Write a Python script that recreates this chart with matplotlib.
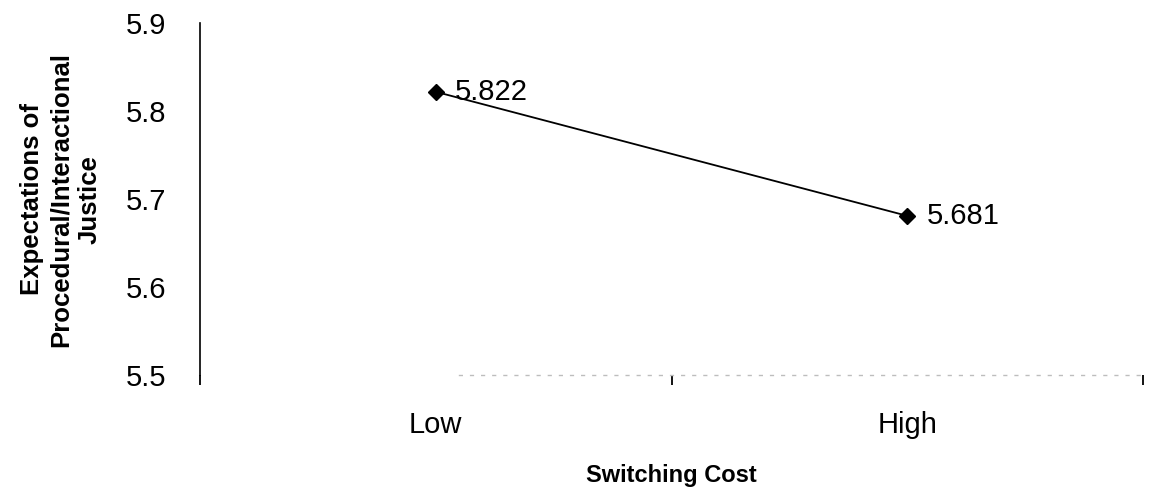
"""
   switching cost vs expected procedural/interactional justice (two-point line)
"""
from matplotlib import pyplot as plt
plt.switch_backend('Agg') #batch
import numpy as np

plt.rcParams['font.family'] = ['Liberation Sans', 'DejaVu Sans']

categories = ['Low', 'High']
justice = [5.822, 5.681]
point_labels = ['5.822', '5.681']
y_ticks = [5.5, 5.6, 5.7, 5.8, 5.9]

fig = plt.figure(figsize=(11.49, 4.93), dpi=100)
ax = fig.add_axes([0.174, 0.239, 0.821, 0.714])

x = np.arange(len(categories))
ax.plot(x, justice, color='black', lw=1.3, marker='D', ms=8,
        markerfacecolor='black', markeredgecolor='black', zorder=3)
for xi, yi, lab in zip(x, justice, point_labels):
    ax.annotate(lab, (xi, yi), xytext=(14, 0), textcoords='offset points',
                va='center', ha='left', fontsize=21)

ax.set_xlim(-0.5, len(categories) - 0.5)
ax.set_ylim(y_ticks[0], y_ticks[-1])
ax.set_yticks(y_ticks)
ax.set_yticklabels(['%.1f' % v for v in y_ticks])
ax.tick_params(axis='y', length=0, pad=24, labelsize=21)

# category boundaries as major ticks, names as minor ticks
ax.set_xticks(np.arange(len(categories) + 1) - 0.5)
ax.set_xticklabels([])
ax.set_xticks(x, minor=True)
ax.set_xticklabels(categories, minor=True)
ax.tick_params(axis='x', which='major', length=7, width=1.3, color='black')
ax.tick_params(axis='x', which='minor', length=0, pad=26, labelsize=21)

for side in ['top', 'right']:
    ax.spines[side].set_visible(False)
ax.spines['left'].set_linewidth(1.2)
ax.spines['bottom'].set_color('#bdbdbd')
ax.spines['bottom'].set_linestyle((0, (2, 6)))
ax.spines['bottom'].set_linewidth(1.0)
ax.spines['bottom'].set_bounds(0.05, 1.5)

ax.set_ylabel('Expectations of\nProcedural/Interactional\nJustice', fontsize=18.5,
              fontweight='bold', linespacing=1.25, labelpad=18)
ax.set_xlabel('Switching Cost', fontsize=17, fontweight='bold', labelpad=18)

fig.savefig('out.png', dpi=100)
